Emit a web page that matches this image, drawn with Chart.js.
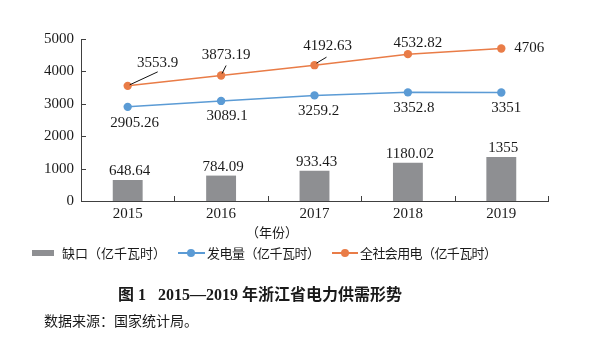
<!DOCTYPE html>
<html><head><meta charset="utf-8">
<script src="https://cdn.jsdelivr.net/npm/chart.js@4"></script>
<style>
html,body{margin:0;padding:0;background:#fff;}
#wrap{position:relative;width:600px;height:357px;overflow:hidden;}
#c{position:absolute;left:0;top:0;}
.t{position:absolute;white-space:nowrap;color:#1a1a1a;font-family:"Noto Sans CJK SC","Liberation Serif",serif;}
</style></head>
<body>
<div id="wrap">
<canvas id="c" width="600" height="357"></canvas>
<div class="t" style="left:246px;top:224px;font-size:13px;line-height:16px;">（年份）</div>
<div style="position:absolute;left:32px;top:250px;width:22px;height:6px;background:#8e8f92;"></div>
<div class="t" style="left:62px;top:245px;font-size:13px;line-height:16px;">缺口（亿千瓦时）</div>
<div style="position:absolute;left:178px;top:252px;width:27px;height:2px;background:#5b9bd5;"></div>
<div style="position:absolute;left:187px;top:249px;width:8px;height:8px;border-radius:50%;background:#5b9bd5;"></div>
<div class="t" style="left:207px;top:245px;font-size:13px;line-height:16px;letter-spacing:-0.5px;">发电量（亿千瓦时）</div>
<div style="position:absolute;left:332px;top:252px;width:26px;height:2px;background:#e97c47;"></div>
<div style="position:absolute;left:341px;top:249px;width:8px;height:8px;border-radius:50%;background:#e97c47;"></div>
<div class="t" style="left:360px;top:245px;font-size:13px;line-height:16px;letter-spacing:-0.6px;">全社会用电（亿千瓦时）</div>
<div class="t" style="left:118px;top:283px;font-size:16px;line-height:20px;font-weight:bold;font-family:'Liberation Serif','Noto Sans CJK SC',serif;">图 1&nbsp;&nbsp;&nbsp;2015—2019 <span style="font-family:'Noto Sans CJK SC'">年浙江省电力供需形势</span></div>
<div class="t" style="left:44px;top:312px;font-size:14px;line-height:17px;">数据来源：国家统计局。</div>
</div>
<script>
const years = ['2015', '2016', '2017', '2018', '2019'];
const gapValues = [648.64, 784.09, 933.43, 1180.02, 1355];
const generation = [2905.26, 3089.1, 3259.2, 3352.8, 3351];
const consumption = [3553.9, 3873.19, 4192.63, 4532.82, 4706];
const yTicks = [0, 1000, 2000, 3000, 4000, 5000];

const NUMFONT = '15px "Liberation Serif", "Times New Roman", serif';

const labelPlugin = {
  id: 'labels',
  afterDatasetsDraw(chart) {
    const ctx = chart.ctx;
    const ca = chart.chartArea;
    const ys = chart.scales.y;
    ctx.save();
    // inner tick marks
    ctx.strokeStyle = '#404040';
    ctx.lineWidth = 1;
    ctx.beginPath();
    yTicks.forEach(v => {
      const py = Math.round(ys.getPixelForValue(v)) + 0.5;
      ctx.moveTo(ca.left, py); ctx.lineTo(ca.left + 5, py);
    });
    for (let i = 1; i <= years.length; i++) {
      const px = Math.round(ca.left + (ca.right - ca.left) * i / years.length) + 0.5;
      ctx.moveTo(px, ca.bottom); ctx.lineTo(px, ca.bottom - 5);
    }
    ctx.stroke();

    ctx.font = NUMFONT;
    ctx.fillStyle = '#1a1a1a';
    ctx.textAlign = 'center';
    ctx.textBaseline = 'middle';
    const cfg = [
      {ds: 0, off: [[2,-9],[2,-9],[2,-9],[2,-9],[2,-9]]},
      {ds: 1, off: [[7,16],[6,15],[4,16],[6,16],[5,16]]},
      {ds: 2, off: [[30,-23],[5,-20],[13,-19],[10,-11],[28,0]],
        lead: [[[2,-1],[30,-14]], [[1,-2],[5,-10]], [[2,-2],[12,-8]], null, null]}
    ];
    cfg.forEach(c => {
      const meta = chart.getDatasetMeta(c.ds);
      const data = chart.data.datasets[c.ds].data;
      meta.data.forEach((el, i) => {
        const x = el.x, y = el.y;
        if (c.lead && c.lead[i]) {
          const l = c.lead[i];
          ctx.strokeStyle = '#111';
          ctx.beginPath();
          ctx.moveTo(x + l[0][0], y + l[0][1]);
          ctx.lineTo(x + l[1][0], y + l[1][1]);
          ctx.stroke();
        }
        ctx.fillText(String(data[i]), x + c.off[i][0], y + c.off[i][1]);
      });
    });
    ctx.restore();
  }
};

new Chart(document.getElementById('c'), {
  type: 'bar',
  data: {
    labels: years,
    datasets: [
      {type: 'bar', label: '缺口（亿千瓦时）', data: gapValues, backgroundColor: '#8e8f92',
        barPercentage: 0.32, categoryPercentage: 1, order: 3},
      {type: 'line', label: '发电量（亿千瓦时）', data: generation, borderColor: '#5b9bd5',
        backgroundColor: '#5b9bd5', borderWidth: 1.5, pointRadius: 4.2, pointBorderWidth: 0, order: 2},
      {type: 'line', label: '全社会用电（亿千瓦时）', data: consumption, borderColor: '#e97c47',
        backgroundColor: '#e97c47', borderWidth: 1.5, pointRadius: 4.2, pointBorderWidth: 0, order: 1}
    ]
  },
  options: {
    responsive: false,
    animation: false,
    events: [],
    layout: {padding: {left: 0, right: 52, top: 39, bottom: 134}},
    plugins: {legend: {display: false}, tooltip: {enabled: false}},
    scales: {
      x: {
        offset: true,
        grid: {display: true, drawOnChartArea: false, drawTicks: false, color: '#404040'},
        border: {color: '#404040', width: 1},
        ticks: {font: {family: '"Liberation Serif", "Times New Roman", serif', size: 15}, color: '#1a1a1a', padding: 4},
        afterFit(s) { s.height = 22; }
      },
      y: {
        min: 0, max: 5000,
        grid: {display: false, drawTicks: false},
        border: {display: true, color: '#404040', width: 1},
        afterBuildTicks(s) { s.ticks = yTicks.map(v => ({value: v})); },
        ticks: {font: {family: '"Liberation Serif", "Times New Roman", serif', size: 15}, color: '#1a1a1a', padding: 7,
          callback: v => String(v)},
        afterFit(s) { s.width = 81; }
      }
    }
  },
  plugins: [labelPlugin]
});
</script>
</body></html>
